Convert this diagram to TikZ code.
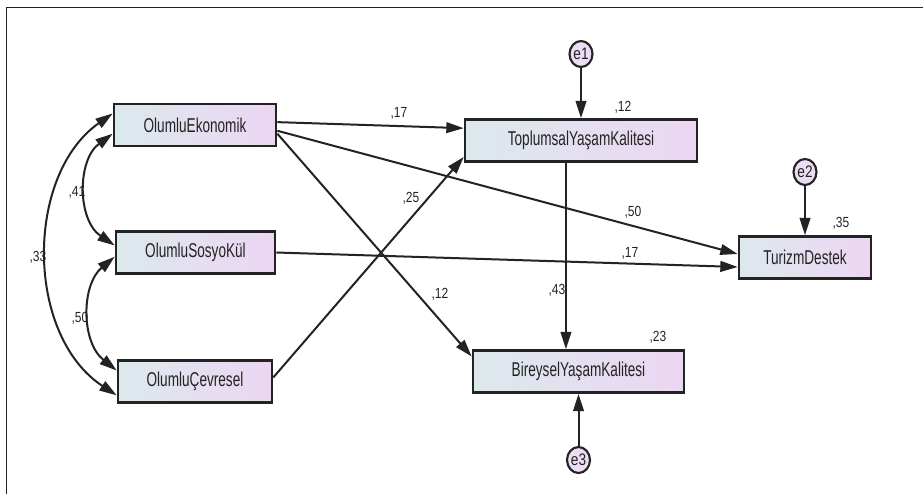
\documentclass[tikz,border=0pt]{standalone}
\usepackage{fontspec}
\setmainfont{Liberation Sans}
\newfontfamily\boxfont[FakeStretch=0.68]{Liberation Sans}
\newfontfamily\numfont[FakeStretch=0.82]{Liberation Sans}
\usetikzlibrary{arrows.meta,shapes.geometric}
\definecolor{boxleft}{RGB}{220,233,236}
\definecolor{boxright}{RGB}{236,214,243}
\definecolor{errfill}{RGB}{236,221,244}
\definecolor{ink}{RGB}{35,35,35}

\begin{document}
\begin{tikzpicture}[x=0.75pt,y=0.75pt,yscale=-1,xscale=1,
    var/.style={draw=ink, line width=2pt, left color=boxleft, right color=boxright, minimum width=#1, minimum height=31.5pt, inner sep=0pt, text=ink, font=\boxfont\fontsize{15}{17}\selectfont},
    err/.style={ellipse, draw=ink, line width=1.6pt, fill=errfill, minimum width=17.25pt, minimum height=19.5pt, inner sep=0pt, text=ink, font=\numfont\fontsize{12.5}{14}\selectfont},
    reg/.style={draw=ink, line width=1.5pt, -{Triangle[length=13pt,width=8pt]}},
    cov/.style={draw=ink, line width=1.5pt, {Triangle[length=13pt,width=8pt]}-{Triangle[length=13pt,width=8pt]}},
    coef/.style={inner sep=0pt, text=ink, font=\numfont\fontsize{11}{13}\selectfont}]
        \useasboundingbox (0,0) rectangle (923,494);
        %frame
        \draw [ink, line width=1.2pt] (6.5,494) -- (6.5,7.5) -- (923,7.5);
        
        %exogenous variables
        \node [var=121.5pt] (oe) at (195,125) {OlumluEkonomik};
        \node [var=119.25pt] (os) at (195.5,252.5) {OlumluSosyoKül};
        \node [var=115.5pt] (oc) at (195,381.5) {OlumluÇevresel};
        %endogenous variables
        \node [var=174pt] (ty) at (581,140.5) {ToplumsalYaşamKalitesi};
        \node [var=158.25pt] (by) at (578.5,371.5) {BireyselYaşamKalitesi};
        \node [var=99pt] (td) at (805,257.5) {TurizmDestek};
        %error terms
        \node [err] (e1) at (581,54) {e1};
        \node [err] (e2) at (805,172) {e2};
        \node [err] (e3) at (578.5,460) {e3};
        
        %covariances
        \draw [cov] (oe.172) .. controls (25,175) and (25,335) .. (oc.190);
        \draw [cov] (oe.186) .. controls (77,160) and (77,220) .. (os.175);
        \draw [cov] (os.183) .. controls (81,285) and (81,342) .. (oc.172);
        %paths
        \draw [reg] (oe.2) -- (ty.174);
        \draw [reg] (oe.356) -- (td.177);
        \draw [reg] (oe.354) -- (by.172);
        \draw [reg] (os.east) -- (td.188);
        \draw [reg] (oc.3) -- (ty.188);
        \draw [reg] (ty.236) -- (ty.236 |- by.north);
        \draw [reg] (e1.south) -- (ty.north);
        \draw [reg] (e2.south) -- (td.north);
        \draw [reg] (e3.north) -- (by.south);
        
        %estimates
        \node [coef] (r33) at (38,257) {,33};
        \node [coef] (r41) at (77,192) {,41};
        \node [coef] (r50) at (80,318) {,50};
        \node [coef] (b17) at (399,113) {,17};
        \node [coef] (b25) at (411,198) {,25};
        \node [coef] (b12) at (440,294) {,12};
        \node [coef] (b50) at (633,212) {,50};
        \node [coef] (c17) at (630,253) {,17};
        \node [coef] (b43) at (557,290) {,43};
        \node [coef] (s12) at (623,107) {,12};
        \node [coef] (s23) at (658,337) {,23};
        \node [coef] (s35) at (841,223) {,35};
\end{tikzpicture}
\end{document}
